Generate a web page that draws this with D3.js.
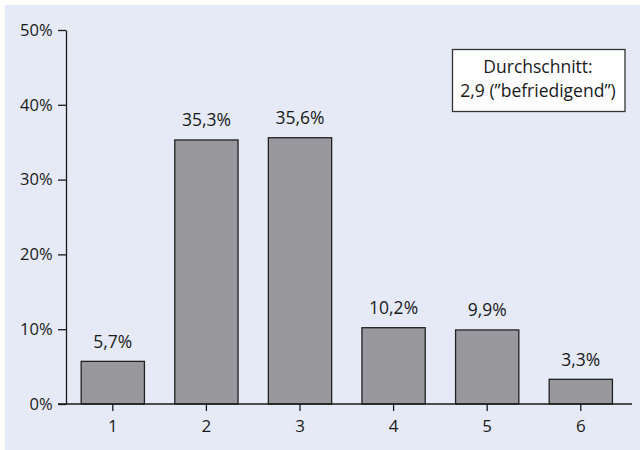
<!DOCTYPE html>
<html>
<head>
<meta charset="utf-8">
<script src="https://cdn.jsdelivr.net/npm/d3@7"></script>
<style>
  body { margin: 0; background: #fff; }
  svg { display: block; font-family: "Open Sans", sans-serif; }
</style>
</head>
<body>
<script>
'use strict'
// Notenverteilung
var grades = ["1", "2", "3", "4", "5", "6"];
var shares = [5.7, 35.3, 35.6, 10.2, 9.9, 3.3];
var yTicks = [0, 10, 20, 30, 40, 50];
var noteLines = ["Durchschnitt:", "2,9 (\u201Dbefriedigend\u201D)"];

var width = 640, height = 450;
var fmt = function(v){ return String(v).replace(".", ",") + "%"; };

var svg = d3.select("body")
            .append("svg")
            .attr("width", width)
            .attr("height", height);

svg.append("rect")
   .attr("x", 5).attr("y", 5)
   .attr("width", width - 5).attr("height", height - 5)
   .attr("fill", "#e5eaf6");

var x = d3.scaleBand()
          .domain(grades)
          .range([66, 627.6])
          .paddingInner(0.324)
          .paddingOuter(0.162);

var y = d3.scaleLinear()
          .domain([0, 50])
          .range([404, 30]);

// bars
svg.selectAll("rect.bar")
   .data(grades)
   .enter()
   .append("rect")
   .attr("class", "bar")
   .attr("x", function(d){ return x(d); })
   .attr("y", function(d, i){ return y(shares[i]); })
   .attr("width", x.bandwidth())
   .attr("height", function(d, i){ return y(0) - y(shares[i]); })
   .attr("fill", "#98989d")
   .attr("stroke", "#222")
   .attr("stroke-width", 1.3);

svg.selectAll("text.val")
   .data(grades)
   .enter()
   .append("text")
   .attr("class", "val")
   .attr("x", function(d){ return x(d) + x.bandwidth() / 2; })
   .attr("y", function(d, i){ return y(shares[i]) - 13.5; })
   .attr("text-anchor", "middle")
   .attr("font-size", 17.5)
   .attr("fill", "#1a1a1a")
   .text(function(d, i){ return fmt(shares[i]); });

// y axis
var yAxis = svg.append("g")
   .attr("transform", "translate(66,0)")
   .call(d3.axisLeft(y).tickValues(yTicks).tickSize(8).tickSizeOuter(0)
          .tickFormat(function(d){ return d + "%"; }));
yAxis.selectAll("text").attr("font-size", 16.5).attr("fill", "#1a1a1a")
     .attr("font-family", "Open Sans, sans-serif").attr("dx", "-0.15em");

// x axis
var xAxis = svg.append("g")
   .attr("transform", "translate(0,404)")
   .call(d3.axisBottom(x).tickSize(7).tickSizeOuter(0));
xAxis.select(".domain").remove();
xAxis.append("line")
     .attr("x1", 58).attr("x2", 632)
     .attr("stroke", "#1a1a1a").attr("stroke-width", 1.3);
xAxis.selectAll("text").attr("font-size", 17).attr("fill", "#1a1a1a")
     .attr("font-family", "Open Sans, sans-serif").attr("dy", "1.05em");

svg.selectAll(".tick line").attr("stroke", "#1a1a1a").attr("stroke-width", 1.3);
yAxis.select(".domain").attr("stroke", "#1a1a1a").attr("stroke-width", 1.3);

// Durchschnitt box
svg.append("rect")
   .attr("x", 452.5).attr("y", 49.5)
   .attr("width", 172.5).attr("height", 62)
   .attr("fill", "#fff")
   .attr("stroke", "#333")
   .attr("stroke-width", 1.3);

svg.selectAll("text.note")
   .data(noteLines)
   .enter()
   .append("text")
   .attr("class", "note")
   .attr("x", 538)
   .attr("y", function(d, i){ return 72.5 + i * 24; })
   .attr("text-anchor", "middle")
   .attr("font-size", 17.5)
   .attr("fill", "#1a1a1a")
   .text(function(d){ return d; });
</script>
</body>
</html>
